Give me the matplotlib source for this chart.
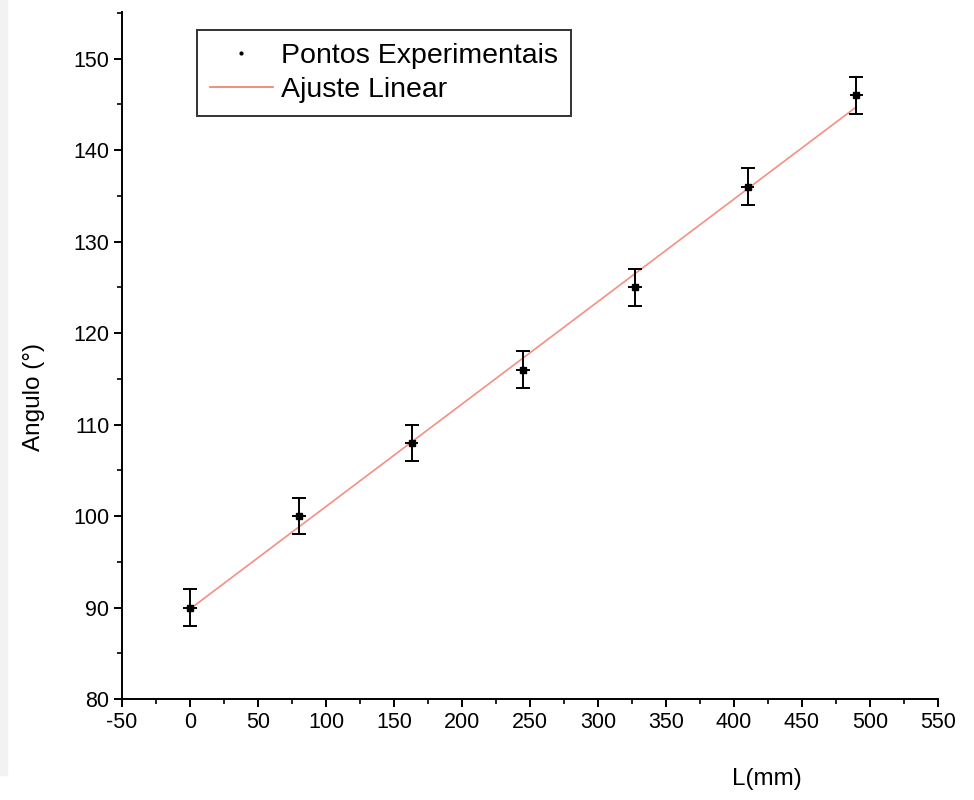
import numpy as np
import matplotlib.pyplot as plt
from matplotlib.patches import Rectangle
from matplotlib.ticker import MultipleLocator

# comprimento L (mm) e angulo medido (graus)
L_mm = np.array([0, 80, 163, 245, 327, 410, 490])
angulo = np.array([90, 100, 108, 116, 125, 136, 146])
erro_angulo = np.array([2, 2, 2, 2, 2, 2, 2])
erro_L = np.array([5, 5, 5, 5, 5, 5, 5])

# ajuste linear por minimos quadrados
coef = np.polyfit(L_mm, angulo, 1)
x_fit = np.array([L_mm.min(), L_mm.max()])
y_fit = np.polyval(coef, x_fit)

plt.rcParams['font.family'] = ['Liberation Sans', 'DejaVu Sans']
plt.rcParams['axes.unicode_minus'] = False

fig = plt.figure(figsize=(9.74, 8), dpi=100)
fig.patches.append(Rectangle((0, 25 / 800), 7 / 974, 1, transform=fig.transFigure,
                             color='#f2f2f2', zorder=-1))
ax = fig.add_axes([122 / 974, 101 / 800, 816 / 974, 687 / 800])

ax.plot(x_fit, y_fit, color='#f26a5a', lw=1.2, alpha=0.75, label='Ajuste Linear', zorder=2)

# barras horizontais (sem tampa) e verticais (com tampa)
ax.errorbar(L_mm, angulo, xerr=erro_L, fmt='none', ecolor='black', elinewidth=1.4,
            capsize=0, zorder=3)
ax.errorbar(L_mm, angulo, yerr=erro_angulo, fmt='none', ecolor='black', elinewidth=1.4,
            capsize=5, capthick=1.4, zorder=3)
ax.plot(L_mm, angulo, ls='none', marker='s', ms=4, color='black', zorder=4)
ax.plot([], [], ls='none', marker='.', ms=4, color='black', label='Pontos Experimentais')

ax.set_xlim(-50, 550)
ax.set_ylim(80, 155.1)
ax.xaxis.set_major_locator(MultipleLocator(50))
ax.xaxis.set_minor_locator(MultipleLocator(25))
ax.yaxis.set_major_locator(MultipleLocator(10))
ax.yaxis.set_minor_locator(MultipleLocator(5))
ax.set_yticks(np.arange(80, 151, 10))

for s in ['top', 'right']:
    ax.spines[s].set_visible(False)
for s in ['left', 'bottom']:
    ax.spines[s].set_linewidth(1.4)

ax.tick_params(which='major', direction='out', length=6, width=1.4, labelsize=15.5, pad=3)
ax.tick_params(which='minor', direction='out', length=3.5, width=1.2)

ax.set_xlabel('L(mm)', fontsize=17.5)
ax.xaxis.set_label_coords(0.79, -0.1)
ax.set_ylabel('Angulo (°)', fontsize=17.5)
ax.yaxis.set_label_coords(-0.094, 0.44)

handles, labels = ax.get_legend_handles_labels()
leg = ax.legend(handles[::-1], labels[::-1], loc='upper left',
                bbox_to_anchor=(0.092, 0.974), borderaxespad=0, fontsize=20.5,
                frameon=True, fancybox=False, edgecolor='black', handlelength=2.2,
                handletextpad=0.3, borderpad=0.45, labelspacing=0.3)
leg.get_frame().set_linewidth(1.4)
leg.legend_handles[1].set_color('#e8503a')

fig.savefig('out.png', dpi=100)
